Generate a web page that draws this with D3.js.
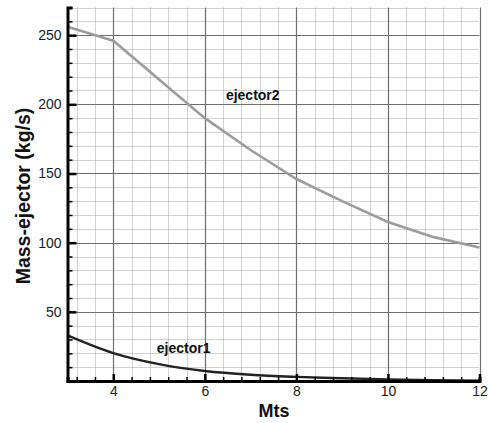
<!DOCTYPE html>
<html>
<head>
<meta charset="utf-8">
<script src="https://cdn.jsdelivr.net/npm/d3@7"></script>
<style>
  html, body { margin: 0; padding: 0; background: #fff; }
  svg { display: block; font-family: "Liberation Sans", Arial, sans-serif; }
</style>
</head>
<body>
<svg id="chart" width="488" height="423"></svg>
<script>
// Mass flow of each ejector against Mts
const mts = [3, 4, 5, 6, 7, 8, 9, 10, 11, 12];
const ejector1 = [33, 20.2, 12.2, 7.2, 4.5, 3, 2, 1.2, 0.6, 0.3];
const ejector2 = [256, 246, 218, 190, 167, 146, 130, 115, 104, 96.5];

const xTicks = [4, 6, 8, 10, 12];
const yTicks = [50, 100, 150, 200, 250];

const seriesNames = ["ejector1", "ejector2"];
const labelPos = [{ x: 4.95, y: 20.2 }, { x: 6.46, y: 203 }];

const svg = d3.select("#chart");
const x = d3.scaleLinear().domain([3, 12]).range([67.5, 479.5]);
const y = d3.scaleLinear().domain([0, 270]).range([381, 7.5]);

const xMinor = d3.range(8, 31).map(i => +(i * 0.4).toFixed(1)).filter(v => v >= 3 && v <= 12);
const yMinor = d3.range(10, 271, 10);

const grid = svg.append("g");
// minor grid (dotted)
grid.selectAll(".vminor").data(xMinor.filter(v => !xTicks.includes(v)))
  .join("line")
  .attr("x1", d => Math.round(x(d)) + 0.5).attr("x2", d => Math.round(x(d)) + 0.5)
  .attr("y1", y(270)).attr("y2", y(0))
  .attr("stroke", "#a4a4a4").attr("stroke-width", 1).attr("stroke-dasharray", "1,1");
grid.selectAll(".hminor").data(yMinor.filter(v => !yTicks.includes(v)))
  .join("line")
  .attr("x1", x(3)).attr("x2", x(12))
  .attr("y1", d => Math.round(y(d)) + 0.5).attr("y2", d => Math.round(y(d)) + 0.5)
  .attr("stroke", "#a4a4a4").attr("stroke-width", 1).attr("stroke-dasharray", "1,1");
// major grid (solid)
grid.selectAll(".vmajor").data(xTicks)
  .join("line")
  .attr("x1", d => Math.round(x(d)) + 0.5).attr("x2", d => Math.round(x(d)) + 0.5)
  .attr("y1", y(270)).attr("y2", y(0))
  .attr("stroke", "#6e6e6e").attr("stroke-width", 1.2);
grid.selectAll(".hmajor").data(yTicks)
  .join("line")
  .attr("x1", x(3)).attr("x2", x(12))
  .attr("y1", d => Math.round(y(d)) + 0.5).attr("y2", d => Math.round(y(d)) + 0.5)
  .attr("stroke", "#6e6e6e").attr("stroke-width", 1.2);

// data lines
const pts = arr => mts.map((m, i) => [m, arr[i]]);
const smooth = d3.line().x(d => x(d[0])).y(d => y(d[1])).curve(d3.curveMonotoneX);
const straight = d3.line().x(d => x(d[0])).y(d => y(d[1]));
svg.append("path").datum(pts(ejector2))
  .attr("d", straight)
  .attr("fill", "none").attr("stroke", "#9c9c9c").attr("stroke-width", 2.6);
svg.append("path").datum(pts(ejector1))
  .attr("d", smooth)
  .attr("fill", "none").attr("stroke", "#222").attr("stroke-width", 2.4);

// axes with inward ticks
const xAxis = svg.append("g").attr("transform", `translate(0,${y(0)})`);
xAxis.call(d3.axisBottom(x).tickValues(xMinor).tickSize(-4).tickFormat(""));
xAxis.call(g => g.selectAll(".tick line").attr("stroke", "#000").attr("stroke-width", 1.5));
const xAxisMajor = svg.append("g").attr("transform", `translate(0,${y(0)})`)
  .call(d3.axisBottom(x).tickValues(xTicks).tickSize(-7).tickPadding(5).tickFormat(d3.format("d")));
xAxisMajor.selectAll(".tick line").attr("stroke", "#000").attr("stroke-width", 2.5);
xAxisMajor.selectAll("text").attr("font-size", 14).attr("fill", "#1a1a1a")
  .attr("font-family", "Liberation Sans, Arial, sans-serif");
xAxisMajor.select(".domain").remove();
xAxis.select(".domain").attr("stroke", "#000").attr("stroke-width", 3);

const yAxis = svg.append("g").attr("transform", `translate(${x(3)},0)`);
yAxis.call(d3.axisLeft(y).tickValues(yMinor).tickSize(-5).tickFormat(""));
yAxis.call(g => g.selectAll(".tick line").attr("stroke", "#000").attr("stroke-width", 1.5));
const yAxisMajor = svg.append("g").attr("transform", `translate(${x(3)},0)`)
  .call(d3.axisLeft(y).tickValues(yTicks).tickSize(-9).tickPadding(6).tickFormat(d3.format("d")));
yAxisMajor.selectAll(".tick line").attr("stroke", "#000").attr("stroke-width", 2.5);
yAxisMajor.selectAll("text").attr("font-size", 14).attr("fill", "#1a1a1a")
  .attr("font-family", "Liberation Sans, Arial, sans-serif");
yAxisMajor.select(".domain").remove();
yAxis.select(".domain").attr("stroke", "#000").attr("stroke-width", 3);

// series labels
svg.selectAll(".slabel").data(seriesNames)
  .join("text")
  .attr("x", (d, i) => x(labelPos[i].x))
  .attr("y", (d, i) => y(labelPos[i].y))
  .attr("font-size", 14).attr("font-weight", "bold").attr("fill", "#111")
  .text(d => d);

// axis titles
svg.append("text").attr("x", 274).attr("y", 417)
  .attr("text-anchor", "middle").attr("font-size", 18).attr("font-weight", "bold")
  .attr("fill", "#111").text("Mts");
svg.append("text").attr("transform", "translate(29.5,196) rotate(-90)")
  .attr("text-anchor", "middle").attr("font-size", 19.5).attr("font-weight", "bold")
  .attr("fill", "#111").text("Mass-ejector (kg/s)");
</script>
</body>
</html>
